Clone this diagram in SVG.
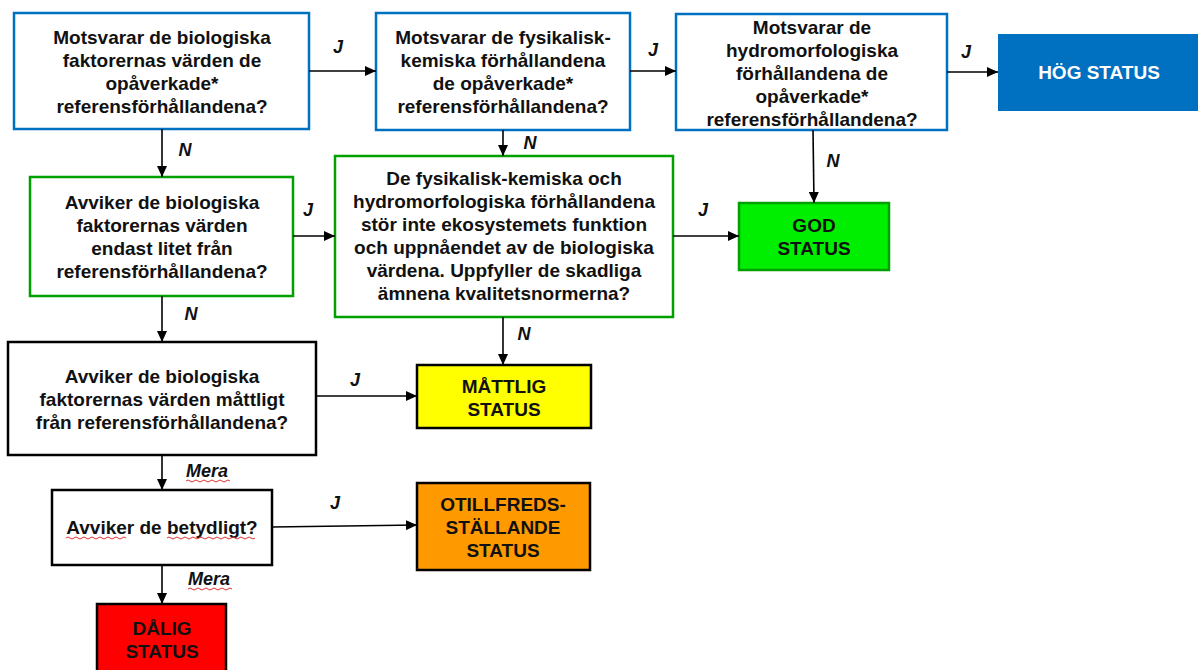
<svg xmlns="http://www.w3.org/2000/svg" width="1198" height="670" viewBox="0 0 1198 670">
<style>
  .q { font-family: "Liberation Sans", Arial, sans-serif; font-weight: bold; font-size: 19px; fill: #111; text-anchor: middle; }
  .w { fill: #fff; }
  .lbl { font-family: "Liberation Sans", Arial, sans-serif; font-weight: bold; font-style: italic; font-size: 18px; fill: #111; text-anchor: middle; }
  .blue { fill: #fff; stroke: #0070C0; stroke-width: 2.5; }
  .green { fill: #fff; stroke: #00A000; stroke-width: 2.5; }
  .black { fill: #fff; stroke: #000; stroke-width: 2.5; }
  .conn line { stroke: #000; stroke-width: 1.6; marker-end: url(#arr); }
  .sq { fill: none; stroke: #E03030; stroke-width: 1; }
</style>
<defs>
  <marker id="arr" markerUnits="userSpaceOnUse" markerWidth="12" markerHeight="10" refX="11" refY="5" orient="auto">
    <path d="M0,0 L11,5 L0,10 Z" fill="#000"/>
  </marker>
</defs>
<rect width="1198" height="670" fill="#fff"/>

<g id="q1">
  <rect class="blue" x="14" y="13" width="295" height="116"/>
  <text class="q" x="162" y="44">Motsvarar de biologiska</text>
  <text class="q" x="162" y="67">faktorernas värden de</text>
  <text class="q" x="162" y="90">opåverkade*</text>
  <text class="q" x="162" y="113">referensförhållandena?</text>
</g>
<g id="q2">
  <rect class="blue" x="376" y="13" width="254" height="117"/>
  <text class="q" x="503" y="44">Motsvarar de fysikalisk-</text>
  <text class="q" x="503" y="67">kemiska förhållandena</text>
  <text class="q" x="503" y="90">de opåverkade*</text>
  <text class="q" x="503" y="113">referensförhållandena?</text>
</g>
<g id="q3">
  <rect class="blue" x="676" y="14" width="271" height="116"/>
  <text class="q" x="812" y="34">Motsvarar de</text>
  <text class="q" x="812" y="57">hydromorfologiska</text>
  <text class="q" x="812" y="80">förhållandena de</text>
  <text class="q" x="812" y="103">opåverkade*</text>
  <text class="q" x="812" y="126">referensförhållandena?</text>
</g>
<g id="hog">
  <rect x="998" y="34" width="202" height="77" fill="#0070C0"/>
  <text class="q w" x="1099" y="79">HÖG STATUS</text>
</g>
<g id="q4">
  <rect class="green" x="30" y="177" width="263" height="119"/>
  <text class="q" x="162" y="209">Avviker de biologiska</text>
  <text class="q" x="162" y="232">faktorernas värden</text>
  <text class="q" x="162" y="255">endast litet från</text>
  <text class="q" x="162" y="278">referensförhållandena?</text>
</g>
<g id="q5">
  <rect class="green" x="335" y="156" width="338" height="161"/>
  <text class="q" x="504" y="185">De fysikalisk-kemiska och</text>
  <text class="q" x="504" y="208">hydromorfologiska förhållandena</text>
  <text class="q" x="504" y="231">stör inte ekosystemets funktion</text>
  <text class="q" x="504" y="254">och uppnåendet av de biologiska</text>
  <text class="q" x="504" y="277">värdena. Uppfyller de skadliga</text>
  <text class="q" x="504" y="300">ämnena kvalitetsnormerna?</text>
</g>
<g id="god">
  <rect x="739" y="203" width="150" height="67" fill="#00EE00" stroke="#00A000" stroke-width="2.5"/>
  <text class="q" x="814" y="232">GOD</text>
  <text class="q" x="814" y="255">STATUS</text>
</g>
<g id="q6">
  <rect class="black" x="8" y="342" width="308" height="113"/>
  <text class="q" x="162" y="383">Avviker de biologiska</text>
  <text class="q" x="162" y="406">faktorernas värden måttligt</text>
  <text class="q" x="162" y="429">från referensförhållandena?</text>
</g>
<g id="mattlig">
  <rect x="417" y="365" width="174" height="63" fill="#FFFF00" stroke="#000" stroke-width="2.5"/>
  <text class="q" x="504" y="393">MÅTTLIG</text>
  <text class="q" x="504" y="416">STATUS</text>
</g>
<g id="q7">
  <rect class="black" x="52" y="490" width="220" height="75"/>
  <text class="q" x="162" y="534">Avviker de betydligt?</text>
  <path class="sq" d="M66,538 q2,-2 4,0 t4,0 t4,0 t4,0 t4,0 t4,0 t4,0 t4,0 t4,0 t4,0 t4,0 t4,0 t4,0 t4,0 t4,0"/>
  <path class="sq" d="M167,538 q2,-2 4,0 t4,0 t4,0 t4,0 t4,0 t4,0 t4,0 t4,0 t4,0 t4,0 t4,0 t4,0 t4,0 t4,0 t4,0 t4,0 t4,0 t4,0 t4,0 t4,0 t4,0 t4,0"/>
</g>
<g id="otillfreds">
  <rect x="417" y="483" width="173" height="87" fill="#FF9900" stroke="#000" stroke-width="2.5"/>
  <text class="q" x="503" y="511">OTILLFREDS-</text>
  <text class="q" x="503" y="534">STÄLLANDE</text>
  <text class="q" x="503" y="557">STATUS</text>
</g>
<g id="dalig">
  <rect x="97" y="604" width="129" height="70" fill="#FF0000" stroke="#000" stroke-width="2.5"/>
  <text class="q" x="162" y="635">DÅLIG</text>
  <text class="q" x="162" y="658">STATUS</text>
</g>

<g id="connectors" class="conn">
  <line x1="309" y1="71" x2="376" y2="71"/>
  <line x1="630" y1="71" x2="676" y2="71"/>
  <line x1="947" y1="72" x2="998" y2="72"/>
  <line x1="162" y1="129" x2="162" y2="177"/>
  <line x1="503" y1="130" x2="503" y2="156"/>
  <line x1="813" y1="130" x2="814" y2="203"/>
  <line x1="293" y1="236" x2="335" y2="236"/>
  <line x1="673" y1="236" x2="739" y2="236"/>
  <line x1="162" y1="296" x2="162" y2="342"/>
  <line x1="503" y1="317" x2="503" y2="365"/>
  <line x1="316" y1="396" x2="417" y2="396"/>
  <line x1="162" y1="455" x2="162" y2="490"/>
  <line x1="272" y1="527" x2="417" y2="525"/>
  <line x1="162" y1="565" x2="162" y2="604"/>
</g>

<g id="labels">
  <text class="lbl" x="338" y="53">J</text>
  <text class="lbl" x="653" y="56">J</text>
  <text class="lbl" x="966" y="58">J</text>
  <text class="lbl" x="185" y="156">N</text>
  <text class="lbl" x="530" y="149">N</text>
  <text class="lbl" x="833" y="167">N</text>
  <text class="lbl" x="308" y="216">J</text>
  <text class="lbl" x="703" y="216">J</text>
  <text class="lbl" x="191" y="320">N</text>
  <text class="lbl" x="524" y="340">N</text>
  <text class="lbl" x="355" y="386">J</text>
  <text class="lbl" x="207" y="477">Mera</text>
  <text class="lbl" x="335" y="509">J</text>
  <text class="lbl" x="209" y="585">Mera</text>
  <path class="sq" d="M186,481 q2,-2 4,0 t4,0 t4,0 t4,0 t4,0 t4,0 t4,0 t4,0 t4,0 t4,0 t4,0"/>
  <path class="sq" d="M188,589 q2,-2 4,0 t4,0 t4,0 t4,0 t4,0 t4,0 t4,0 t4,0 t4,0 t4,0 t4,0"/>
</g>
</svg>
